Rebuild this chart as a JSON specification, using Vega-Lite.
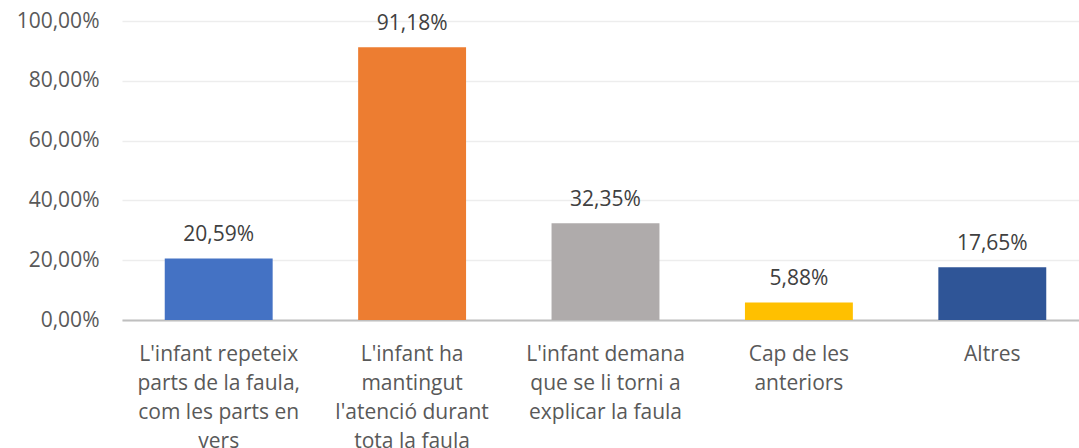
{
  "$schema": "https://vega.github.io/schema/vega-lite/v6.json",
  "autosize": "none",
  "padding": {"left": 122, "top": 21, "right": 0, "bottom": 128},
  "width": 967,
  "height": 299,
  "background": "white",
  "config": {
    "view": {"stroke": null},
    "locale": {"number": {"decimal": ",", "thousands": ".", "grouping": [3], "currency": ["", " €"]}},
    "font": "Open Sans"
  },
  "data": {
    "values": [
      {"cat": "L'infant repeteix|parts de la faula,|com les parts en|vers", "value": 0.2059, "color": "#4472C4"},
      {"cat": "L'infant ha|mantingut|l'atenció durant|tota la faula", "value": 0.9118, "color": "#ED7D31"},
      {"cat": "L'infant demana|que se li torni a|explicar la faula", "value": 0.3235, "color": "#AFABAB"},
      {"cat": "Cap de les|anteriors", "value": 0.0588, "color": "#FFC000"},
      {"cat": "Altres", "value": 0.1765, "color": "#2F5597"}
    ]
  },
  "encoding": {
    "x": {
      "field": "cat", "type": "nominal", "sort": null,
      "scale": {"paddingInner": 0.442, "paddingOuter": 0.221},
      "axis": {
        "title": null, "labelAngle": 0, "ticks": false,
        "domainColor": "#BFBFBF", "domainWidth": 2,
        "labelExpr": "split(datum.value, '|')",
        "labelFont": "Open Sans", "labelFontSize": 21, "labelColor": "#595959",
        "labelLineHeight": 29, "labelPadding": 23, "labelBaseline": "top",
        "labelLimit": 300
      }
    },
    "y": {
      "field": "value", "type": "quantitative",
      "scale": {"domain": [0, 1], "nice": false},
      "axis": {
        "title": null, "values": [0, 0.2, 0.4, 0.6, 0.8, 1], "format": ".2%",
        "domain": false, "ticks": false,
        "gridColor": "#EDEDED", "gridWidth": 1.5,
        "labelFont": "Open Sans", "labelFontSize": 21, "labelColor": "#595959",
        "labelPadding": 23
      }
    }
  },
  "layer": [
    {
      "mark": {"type": "bar"},
      "encoding": {"color": {"field": "color", "type": "nominal", "scale": null}}
    },
    {
      "mark": {"type": "text", "dy": -17, "baseline": "alphabetic", "font": "Open Sans", "fontSize": 21, "color": "#404040"},
      "encoding": {"text": {"field": "value", "type": "quantitative", "format": ".2%"}}
    }
  ]
}
